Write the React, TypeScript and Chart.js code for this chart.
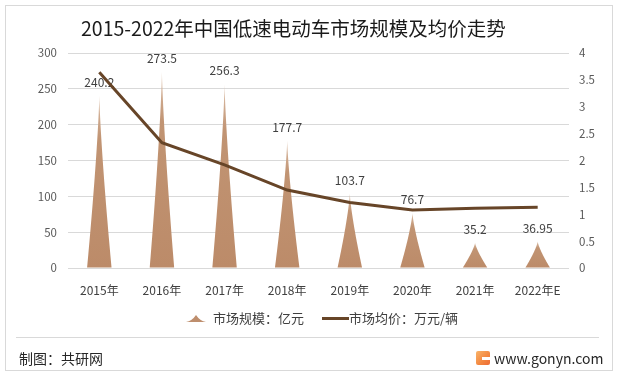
import React, { useEffect, useRef } from "react";
import { Chart, registerables } from "chart.js";

Chart.register(...registerables);

const categories = ["2015年", "2016年", "2017年", "2018年", "2019年", "2020年", "2021年", "2022年E"];
const marketSize = [240.2, 273.5, 256.3, 177.7, 103.7, 76.7, 35.2, 36.95];
const avgPrice = [3.64, 2.33, 1.92, 1.45, 1.22, 1.08, 1.11, 1.13];
const leftAxis = { min: 0, max: 300, step: 50 };
const rightAxis = { min: 0, max: 4, step: 0.5 };
const seriesNames = ["市场规模：亿元", "市场均价：万元/辆"];
const titleText = "2015-2022年中国低速电动车市场规模及均价走势";

const FONT = '"Noto Sans CJK SC", "Noto Sans", sans-serif';
const SPIKE = "#be8e6d";
const LINE = "#674528";

const spikePlugin = {
  id: "spikes",
  afterDatasetDraw(chart: any, args: any) {
    if (args.index !== 0) return;
    const ctx = chart.ctx as CanvasRenderingContext2D;
    const data = chart.data.datasets[0].data as number[];
    args.meta.data.forEach((el: any, i: number) => {
      const { x, y, base, width } = el.getProps(["x", "y", "base", "width"], true);
      const h = base - y;
      const w = width;
      ctx.save();
      const g = ctx.createLinearGradient(0, base, 0, y);
      g.addColorStop(0, "#bc8b69");
      g.addColorStop(0.75, "#c19473");
      g.addColorStop(1, "#dcc0aa");
      ctx.fillStyle = g;
      ctx.beginPath();
      const N = 40;
      ctx.moveTo(x - w / 2, base);
      for (let k = 1; k <= N; k++) {
        const s = k / N;
        const hw = 0.5 * w * Math.pow(1 - s, 1.3);
        ctx.lineTo(x - hw, base - s * h);
      }
      for (let k = N - 1; k >= 0; k--) {
        const s = k / N;
        const hw = 0.5 * w * Math.pow(1 - s, 1.3);
        ctx.lineTo(x + hw, base - s * h);
      }
      ctx.closePath();
      ctx.fill();
      ctx.fillStyle = "#404040";
      ctx.font = `12px ${FONT}`;
      ctx.textAlign = "center";
      ctx.textBaseline = "middle";
      ctx.fillText(String(data[i]), x, y - 13.5);
      ctx.restore();
    });
  },
};

export default function App() {
  const ref = useRef<HTMLCanvasElement>(null);

  useEffect(() => {
    const canvas = ref.current!;
    const chart = new Chart(canvas, {
      type: "bar",
      data: {
        labels: categories,
        datasets: [
          {
            type: "bar",
            label: seriesNames[0],
            data: marketSize,
            backgroundColor: "rgba(0,0,0,0)",
            borderWidth: 0,
            yAxisID: "y",
            order: 2,
            barPercentage: 0.39,
            categoryPercentage: 1,
          } as any,
          {
            type: "line",
            label: seriesNames[1],
            data: avgPrice,
            borderColor: LINE,
            borderWidth: 3,
            pointRadius: 0,
            tension: 0,
            fill: false,
            yAxisID: "y1",
            order: 1,
          } as any,
        ],
      },
      options: {
        animation: false,
        responsive: false,
        devicePixelRatio: 1,
        layout: { padding: { top: 53, left: 0, right: 0, bottom: 0 } },
        plugins: { legend: { display: false }, tooltip: { enabled: false } },
        scales: {
          x: {
            grid: { display: false, drawTicks: false },
            border: { display: false },
            ticks: { color: "#404040", font: { size: 12, family: FONT }, padding: 15, maxRotation: 0 },
            afterFit: (s: any) => { s.height = 375 - 268; },
          },
          y: {
            position: "left",
            min: leftAxis.min,
            max: leftAxis.max,
            ticks: { stepSize: leftAxis.step, color: "#595959", font: { size: 11.5, family: FONT }, padding: 11 },
            grid: { color: "#d9d9d9", drawTicks: false, lineWidth: 1 },
            border: { display: false },
            afterFit: (s: any) => { s.width = 68; },
          },
          y1: {
            position: "right",
            min: rightAxis.min,
            max: rightAxis.max,
            ticks: {
              stepSize: rightAxis.step,
              color: "#595959",
              font: { size: 11.5, family: FONT },
              padding: 10,
              callback: (v: any) => String(Number(v)),
            },
            grid: { display: false, drawTicks: false },
            border: { display: false },
            afterFit: (s: any) => { s.width = 618 - 569; },
          },
        },
      } as any,
      plugins: [spikePlugin],
    });
    return () => chart.destroy();
  }, []);

  const abs = (style: React.CSSProperties): React.CSSProperties => ({
    position: "absolute",
    whiteSpace: "nowrap",
    fontFamily: FONT,
    pointerEvents: "none",
    ...style,
  });

  return (
    <div style={{ position: "fixed", left: 0, top: 0, width: 618, height: 375, background: "#fff", overflow: "hidden" }}>
      <canvas ref={ref} width={618} height={375} style={{ position: "absolute", left: 0, top: 0, width: 618, height: 375 }} />
      <div style={abs({ left: 5, top: 5, width: 606, height: 364, border: "1px solid #d9d9d9" })} />
      <div style={abs({ left: 81, top: 15, fontSize: 19.5, lineHeight: "26px", color: "#1a1a1a" })}>{titleText}</div>
      {/* legend */}
      <svg style={abs({ left: 186, top: 313, width: 20, height: 10 })} viewBox="0 0 20 10">
        <path d="M0 9 Q6 8 10 2 Q14 8 20 9 Z" fill={SPIKE} />
      </svg>
      <div style={abs({ left: 213, top: 309, fontSize: 13, lineHeight: "18px", color: "#404040" })}>{seriesNames[0]}</div>
      <div style={abs({ left: 322, top: 317, width: 27, height: 3, background: LINE })} />
      <div style={abs({ left: 349, top: 309, fontSize: 13, lineHeight: "18px", color: "#404040" })}>{seriesNames[1]}</div>
      {/* footer */}
      <div style={abs({ left: 16, top: 337, width: 583, height: 1, background: "#d9d9d9" })} />
      <div style={abs({ left: 19, top: 349, fontSize: 14, lineHeight: "18px", color: "#262626" })}>制图：共研网</div>
      <div
        style={abs({
          left: 476,
          top: 351,
          width: 14,
          height: 14,
          borderRadius: 2,
          background: "linear-gradient(135deg, #f9b46a 0%, #f3863f 60%, #ee6a35 100%)",
        })}
      >
        <div style={{ position: "absolute", left: 6, top: 6, width: 8, height: 3, background: "#fff" }} />
      </div>
      <div style={abs({ left: 494, top: 349, fontSize: 14, lineHeight: "18px", color: "#262626" })}>www.gonyn.com</div>
    </div>
  );
}
